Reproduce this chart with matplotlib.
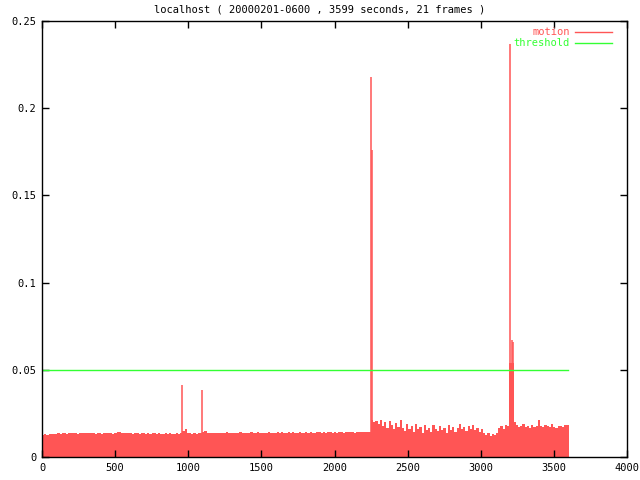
import numpy as np
import matplotlib
matplotlib.use("Agg")
import matplotlib.pyplot as plt

title = "localhost ( 20000201-0600 , 3599 seconds, 21 frames )"
step = 15
duration = 3599
threshold = 0.05
# background motion level, one value per 15 s
motion = [
    # 0 - 945 s
    0.0128, 0.0131, 0.0127, 0.0133, 0.0130, 0.0134, 0.0132, 0.0136, 0.0133, 0.0135,
    0.0137, 0.0134, 0.0138, 0.0135, 0.0139, 0.0136, 0.0134, 0.0138, 0.0136, 0.0140,
    0.0137, 0.0135, 0.0139, 0.0137, 0.0134, 0.0138, 0.0136, 0.0133, 0.0137, 0.0135,
    0.0138, 0.0136, 0.0134, 0.0137, 0.0146, 0.0144, 0.0139, 0.0136, 0.0138, 0.0135,
    0.0137, 0.0134, 0.0138, 0.0136, 0.0133, 0.0137, 0.0135, 0.0132, 0.0136, 0.0134,
    0.0137, 0.0135, 0.0133, 0.0136, 0.0134, 0.0131, 0.0135, 0.0133, 0.0136, 0.0134,
    0.0132, 0.0135, 0.0133, 0.0136,
    # 960 s
    0.0150,
    0.0158, 0.0140, 0.0136, 0.0134, 0.0137, 0.0133, 0.0136, 0.0138,
    # 1095 s
    0.0146,
    0.0147, 0.0139, 0.0136, 0.0138, 0.0135, 0.0139, 0.0137, 0.0140, 0.0136, 0.0138,
    0.0141, 0.0137, 0.0139, 0.0136, 0.0140, 0.0138, 0.0141, 0.0139, 0.0137, 0.0140,
    0.0138, 0.0142, 0.0139, 0.0137, 0.0141, 0.0139, 0.0136, 0.0140, 0.0138, 0.0141,
    0.0139, 0.0137, 0.0140, 0.0142, 0.0139, 0.0141, 0.0138, 0.0140, 0.0142, 0.0139,
    0.0141, 0.0138, 0.0140, 0.0143, 0.0140, 0.0138, 0.0141, 0.0139, 0.0142, 0.0140,
    0.0138, 0.0141, 0.0143, 0.0140, 0.0142, 0.0139, 0.0141, 0.0143, 0.0140, 0.0142,
    0.0139, 0.0141, 0.0143, 0.0140, 0.0142, 0.0144, 0.0141, 0.0143, 0.0140, 0.0142,
    0.0144, 0.0141, 0.0143, 0.0145, 0.0142, 0.0144,
    # 2250 s
    0.0210, 0.0200,
    0.0205, 0.0190, 0.0212, 0.0178, 0.0198, 0.0165, 0.0207, 0.0183, 0.0160, 0.0195,
    0.0172, 0.0214, 0.0168, 0.0150, 0.0188, 0.0162, 0.0176, 0.0145, 0.0192, 0.0158,
    0.0170, 0.0135, 0.0181, 0.0155, 0.0166, 0.0142, 0.0186, 0.0160, 0.0148, 0.0175,
    0.0152, 0.0168, 0.0140, 0.0182, 0.0157, 0.0170, 0.0146, 0.0165, 0.0190, 0.0158,
    0.0172, 0.0150, 0.0178, 0.0162, 0.0185, 0.0155, 0.0168, 0.0145, 0.0160,
    0.0138, 0.0128, 0.0135, 0.0122, 0.0132, 0.0126, 0.0140,
    0.0168, 0.0175, 0.0162, 0.0185, 0.0178,
    # 3195 s
    0.0540, 0.0540, 0.0200,
    0.0182, 0.0172, 0.0178, 0.0190, 0.0170, 0.0176, 0.0168, 0.0185, 0.0174, 0.0180,
    0.0210, 0.0178, 0.0172, 0.0184, 0.0176, 0.0170, 0.0188, 0.0174, 0.0168, 0.0180,
    0.0176, 0.0172, 0.0186, 0.0182,
]
# single-frame motion spikes
spike_times = [960, 1095, 2252, 2259, 3197, 3211, 3218]
spike_values = [0.0410, 0.0385, 0.2180, 0.1760, 0.2370, 0.0670, 0.0660]

xticks = [0, 500, 1000, 1500, 2000, 2500, 3000, 3500, 4000]
yticks = [0, 0.05, 0.1, 0.15, 0.2, 0.25]
ytick_labels = ["0", "0.05", "0.1", "0.15", "0.2", "0.25"]

red = "#ff5555"
green = "#33ff33"
mono = "DejaVu Sans Mono"
fs = 7.5

fig = plt.figure(figsize=(6.4, 4.8), dpi=100)
ax = fig.add_axes([42 / 640, 1 - 457 / 480, (627 - 42) / 640, (457 - 21) / 480])

edges = np.arange(0, step * (len(motion) + 1), step)
ax.stairs(motion, edges, fill=True, color=red, linewidth=0)
ax.vlines(spike_times, 0, spike_values, color=red, linewidth=1.1)
ax.plot([0, duration], [threshold, threshold], color=green, linewidth=1)

ax.set_xlim(0, 4000)
ax.set_ylim(0, 0.25)
ax.set_xticks(xticks)
ax.set_xticklabels([str(t) for t in xticks], fontfamily=mono, fontsize=fs)
ax.set_yticks(yticks)
ax.set_yticklabels(ytick_labels, fontfamily=mono, fontsize=fs)
ax.tick_params(direction="in", length=5, width=1, top=True, right=True, pad=4)
for s in ax.spines.values():
    s.set_linewidth(1)

fig.text(0.5, 1 - 9 / 480, title, ha="center", va="center", fontfamily=mono, fontsize=fs)

# legend
fig.text(570 / 640, 1 - 32 / 480, "motion", ha="right", va="center", color=red,
         fontfamily=mono, fontsize=fs)
fig.text(570 / 640, 1 - 43 / 480, "threshold", ha="right", va="center", color=green,
         fontfamily=mono, fontsize=fs)
fig.add_artist(plt.Line2D([575 / 640, 612 / 640], [1 - 32 / 480] * 2, color=red, lw=1))
fig.add_artist(plt.Line2D([575 / 640, 612 / 640], [1 - 43 / 480] * 2, color=green, lw=1))

fig.savefig("out.png", dpi=100)
